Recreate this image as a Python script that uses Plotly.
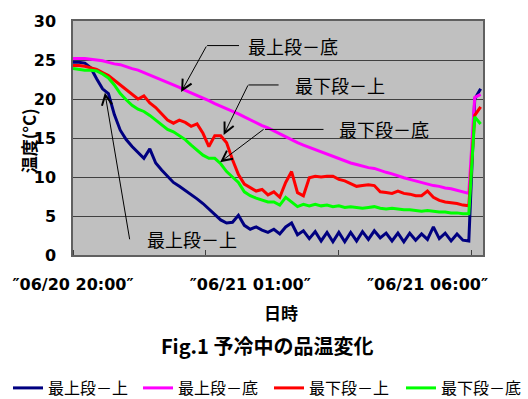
import plotly.graph_objects as go

# Sampling times, minutes after 06/20 20:00 (10-minute log interval)
minutes = list(range(0, 700, 10))

# Product temperature (°C) at each logger position
top_upper = [24.7, 24.7, 24.6, 24.0, 22.6, 21.3, 20.7, 18.0, 16.0, 14.8,
             13.9, 13.2, 12.4, 13.6, 11.8, 10.9, 10.1, 9.3, 8.8, 8.3,
             7.8, 7.2, 6.6, 5.9, 5.1, 4.5, 4.1, 4.2, 5.1, 3.8,
             3.3, 3.6, 3.2, 2.9, 3.3, 2.7, 3.6, 4.1, 2.6, 3.1,
             2.1, 3.0, 1.8, 2.9, 1.7, 2.9, 1.7, 2.9, 1.8, 3.0,
             2.0, 3.1, 2.2, 2.8, 1.8, 2.8, 1.7, 2.8, 1.9, 2.7,
             2.0, 3.6, 2.1, 2.8, 1.8, 2.7, 1.9, 1.8, 20.0, 21.3]

top_bottom = [25.2, 25.2, 25.2, 25.1, 25.0, 24.9, 24.7, 24.5, 24.4, 24.1,
              23.9, 23.7, 23.4, 23.1, 22.8, 22.5, 22.2, 21.8, 21.5, 21.1,
              20.8, 20.5, 20.1, 19.8, 19.4, 19.1, 18.7, 18.4, 18.1, 17.7,
              17.3, 17.0, 16.6, 16.3, 15.9, 15.5, 15.2, 14.8, 14.4, 14.1,
              13.8, 13.5, 13.2, 12.9, 12.6, 12.3, 12.0, 11.8, 11.6, 11.4,
              11.2, 11.1, 10.8, 10.6, 10.4, 10.1, 9.9, 9.7, 9.5, 9.3,
              9.1, 8.9, 8.8, 8.6, 8.5, 8.3, 8.1, 7.9, 20.2, 20.6]

low_upper = [24.3, 24.3, 24.2, 24.0, 23.8, 23.4, 23.0, 22.4, 21.8, 21.2,
             20.6, 20.0, 20.4, 19.5, 18.9, 18.1, 17.3, 16.9, 17.3, 17.0,
             16.5, 16.8, 15.6, 13.9, 15.3, 15.3, 14.4, 12.2, 10.3, 9.1,
             8.6, 8.2, 8.4, 7.7, 8.1, 7.4, 9.3, 10.7, 8.0, 7.6,
             9.9, 10.1, 10.0, 10.1, 10.1, 9.7, 9.5, 9.2, 8.8, 8.9,
             9.0, 8.9, 8.1, 8.0, 7.9, 8.2, 7.9, 7.8, 7.6, 7.6,
             8.2, 7.4, 7.0, 6.8, 6.7, 6.6, 6.4, 6.3, 17.9, 19.0]

low_bottom = [23.9, 23.8, 23.7, 23.7, 23.6, 23.2, 22.7, 21.8, 20.7, 19.9,
              19.2, 18.7, 18.4, 17.9, 17.3, 16.7, 16.1, 15.8, 15.3, 14.8,
              14.1, 13.4, 12.8, 12.4, 12.4, 11.7, 10.7, 10.0, 9.3, 8.1,
              7.6, 7.3, 7.0, 6.8, 6.8, 6.4, 7.4, 6.8, 6.2, 6.5,
              6.3, 6.5, 6.3, 6.4, 6.2, 6.3, 6.1, 6.2, 6.1, 6.0,
              6.1, 6.2, 6.0, 5.9, 6.0, 5.9, 5.8, 5.8, 5.7, 5.6,
              5.7, 5.6, 5.5, 5.5, 5.4, 5.4, 5.3, 5.3, 17.7, 16.8]

series_names = ["最上段－上", "最上段－底", "最下段－上", "最下段－底"]
series_colors = ["#000080", "#FF00FF", "#FF0000", "#00FF00"]

tick_minutes = [0, 300, 600]
tick_labels = ["″06/20 20:00″", "″06/21 01:00″", "″06/21 06:00″"]

JP = "Noto Sans CJK JP"
NUM = "DejaVu Sans"

# One legend box per series so the key entries sit in a single row
legend_ids = ["legend", "legend2", "legend3", "legend4"]
legend_left_px = [8, 138, 269, 401]

fig = go.Figure()
for name, vals, color, lid in zip(series_names,
                                  [top_upper, top_bottom, low_upper, low_bottom],
                                  series_colors, legend_ids):
    fig.add_trace(go.Scatter(x=minutes, y=vals, mode="lines", name=name,
                             legend=lid, line=dict(color=color, width=3)))

# Callout labels: text, a horizontal leader and an arrow to the curve
callouts = [
    # (label, text x, text y, leader x0, leader x1, tip x, tip y, ax, ay)
    ("最上段－底", 293, 26.85, 227, 281, 183, 20.9, 26, -47),
    ("最下段－上", 372, 21.8, 297, 348, 255, 15.4, 25, -51),
    ("最下段－底", 447, 16.1, 325, 424, 249, 11.9, 45, -34),
]
annotations = []
shapes = []
for label, tx, ty, lx0, lx1, px, py, ax, ay in callouts:
    annotations.append(dict(x=tx, y=ty, text=label, showarrow=False,
                            xanchor="left", yanchor="middle",
                            font=dict(family=JP, size=18, color="black")))
    shapes.append(dict(type="line", xref="x", yref="y", x0=lx0, x1=lx1,
                       y0=ty, y1=ty, line=dict(color="black", width=1)))
    annotations.append(dict(x=px, y=py, ax=ax, ay=ay, text="", showarrow=True,
                            arrowhead=5, arrowsize=2, arrowwidth=1,
                            arrowcolor="black", standoff=0, startstandoff=0,
                            font=dict(size=1)))

annotations.append(dict(x=122, y=2.0, text="最上段－上", showarrow=False,
                        xanchor="left", yanchor="middle",
                        font=dict(family=JP, size=18, color="black")))
annotations.append(dict(x=54, y=20.8, ax=25, ay=148, text="", showarrow=True,
                        arrowhead=5, arrowsize=2, arrowwidth=1,
                        arrowcolor="black", standoff=0, startstandoff=0,
                        font=dict(size=1)))

# Axis titles
annotations.append(dict(xref="paper", yref="paper", x=-0.11, y=0.49,
                        text="温度(°C)", textangle=-90, showarrow=False,
                        xanchor="center", yanchor="middle",
                        font=dict(family=JP, size=17, color="black", weight="bold")))
annotations.append(dict(xref="paper", yref="paper", x=0.508, y=-0.244,
                        text="日時", showarrow=False,
                        xanchor="center", yanchor="middle",
                        font=dict(family=JP, size=17, color="black", weight="bold")))

legend_layout = {}
for lid, left in zip(legend_ids, legend_left_px):
    legend_layout[lid] = dict(orientation="h", xref="container", yref="container",
                              x=left / 528, y=1 - 388 / 399,
                              xanchor="left", yanchor="middle",
                              font=dict(family=JP, size=16, color="black"),
                              bgcolor="rgba(0,0,0,0)", itemwidth=30)

fig.update_layout(
    width=528, height=399,
    margin=dict(l=70, r=45, t=17, b=144),
    paper_bgcolor="white", plot_bgcolor="#C0C0C0",
    showlegend=True,
    title=dict(text="Fig.1 予冷中の品温変化", xref="container", yref="container",
               x=0.506, y=1 - 347 / 399, xanchor="center", yanchor="middle",
               font=dict(family=JP, size=20, color="black", weight="bold")),
    xaxis=dict(range=[0, 694], tickmode="array", tickvals=tick_minutes,
               ticktext=tick_labels, ticks="", showgrid=False, zeroline=False,
               showline=True, linecolor="#606060", linewidth=1.5, mirror=True,
               ticklabelstandoff=14,
               tickfont=dict(family=NUM, size=16, color="black", weight="bold"),
               minor=dict(tickmode="linear", tick0=0, dtick=225, ticks="inside",
                          ticklen=5, tickcolor="#404040", tickwidth=1,
                          showgrid=False)),
    yaxis=dict(range=[0, 30], tickmode="linear", tick0=0, dtick=5, ticks="",
               showgrid=True, gridcolor="#404040", gridwidth=1, zeroline=False,
               showline=True, linecolor="#606060", linewidth=1.5, mirror=True,
               ticklabelstandoff=12,
               tickfont=dict(family=NUM, size=16, color="black", weight="bold")),
    annotations=annotations,
    shapes=shapes,
    **legend_layout,
)

fig.write_html("out.html")
